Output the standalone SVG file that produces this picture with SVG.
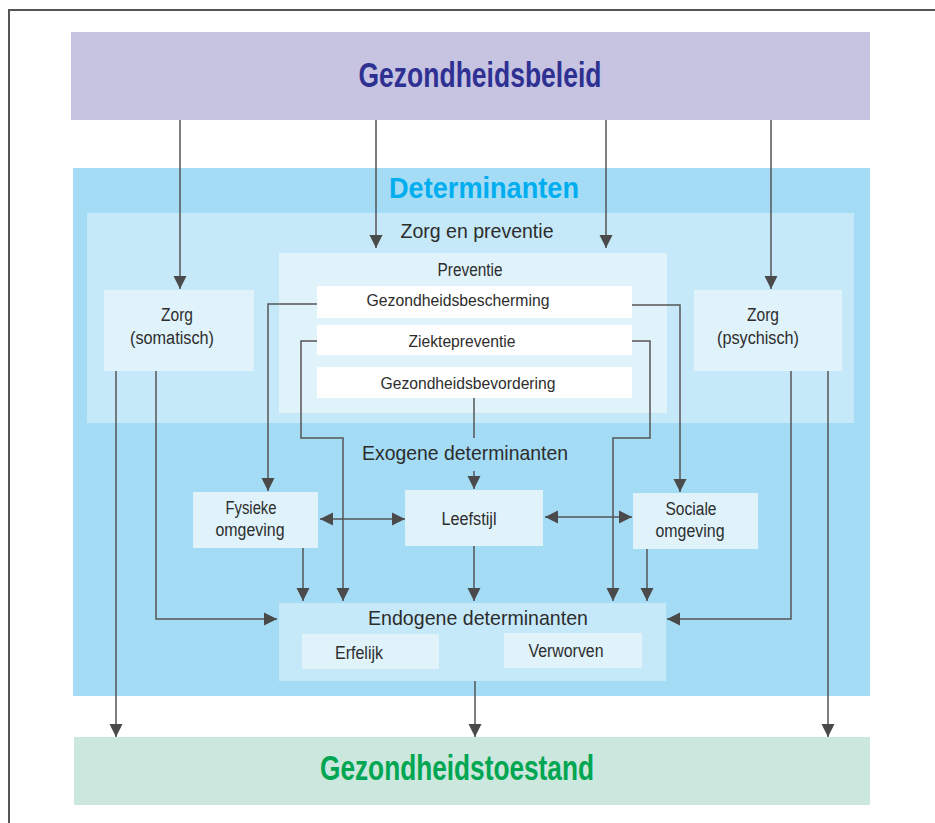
<svg xmlns="http://www.w3.org/2000/svg" width="935" height="823" viewBox="0 0 935 823">
<style>
text{font-family:"Liberation Sans",Arial,sans-serif;fill:#2d2d2d;text-anchor:middle}
.big{font-weight:bold;font-size:35px}
.lbl{font-size:18px}
.sm{font-size:16.5px}
.hd{font-size:21px}
.c{fill:none;stroke:#555;stroke-width:1.5}
.a{marker-end:url(#ah)}
.d{marker-start:url(#ah);marker-end:url(#ah)}
</style>
<defs>
<marker id="ah" markerUnits="userSpaceOnUse" markerWidth="14" markerHeight="14" viewBox="0 0 14 14" refX="13" refY="7" orient="auto-start-reverse">
<path d="M0,0.5 L13,7 L0,13.5 Z" fill="#4a4a4a"/>
</marker>
</defs>
<rect width="935" height="823" fill="#fff"/>
<path d="M9,823 V10 H935" fill="none" stroke="#555" stroke-width="2"/>

<g id="beleid">
<rect x="71" y="32" width="799" height="88" fill="#c7c4e2"/>
<text class="big" x="480" y="87" textLength="243" lengthAdjust="spacingAndGlyphs" style="fill:#2e3192">Gezondheidsbeleid</text>
</g>

<g id="determinanten">
<rect x="73" y="168" width="797" height="528" fill="#a4dcf6"/>
<text x="484" y="198" textLength="190" lengthAdjust="spacingAndGlyphs" style="font-weight:bold;font-size:30px;fill:#00aeef">Determinanten</text>
</g>

<g id="zorg-en-preventie">
<rect x="87" y="213" width="767" height="210" fill="#c6e9f9"/>
<text class="hd" x="477" y="238" textLength="153" lengthAdjust="spacingAndGlyphs">Zorg en preventie</text>
</g>

<g id="preventie">
<rect x="279" y="253" width="388" height="160" fill="#e0f3fb"/>
<text class="lbl" x="470" y="276" textLength="65" lengthAdjust="spacingAndGlyphs">Preventie</text>
</g>

<g id="gezondheidsbescherming">
<rect x="317" y="286" width="315" height="32" fill="#fff"/>
<text class="sm" x="458" y="306" textLength="183" lengthAdjust="spacingAndGlyphs">Gezondheidsbescherming</text>
</g>

<g id="ziektepreventie">
<rect x="317" y="325" width="315" height="30" fill="#fff"/>
<text class="sm" x="462" y="347" textLength="107" lengthAdjust="spacingAndGlyphs">Ziektepreventie</text>
</g>

<g id="gezondheidsbevordering">
<rect x="317" y="367" width="315" height="31" fill="#fff"/>
<text class="sm" x="468" y="389" textLength="175" lengthAdjust="spacingAndGlyphs">Gezondheidsbevordering</text>
</g>

<g id="zorg-somatisch">
<rect x="104" y="290" width="150" height="81" fill="#e0f3fb"/>
<text class="lbl" x="177" y="321" textLength="32" lengthAdjust="spacingAndGlyphs">Zorg</text>
<text class="lbl" x="172" y="344" textLength="84" lengthAdjust="spacingAndGlyphs">(somatisch)</text>
</g>

<g id="zorg-psychisch">
<rect x="694" y="290" width="148" height="81" fill="#e0f3fb"/>
<text class="lbl" x="763" y="321" textLength="32" lengthAdjust="spacingAndGlyphs">Zorg</text>
<text class="lbl" x="758" y="344" textLength="82" lengthAdjust="spacingAndGlyphs">(psychisch)</text>
</g>

<g id="exogene">
<text class="hd" x="465" y="460" textLength="206" lengthAdjust="spacingAndGlyphs">Exogene determinanten</text>
</g>

<g id="fysieke-omgeving">
<rect x="193" y="492" width="125" height="56" fill="#e0f3fb"/>
<text class="lbl" x="251" y="514" textLength="51" lengthAdjust="spacingAndGlyphs">Fysieke</text>
<text class="lbl" x="250" y="536" textLength="69" lengthAdjust="spacingAndGlyphs">omgeving</text>
</g>

<g id="leefstijl">
<rect x="405" y="490" width="138" height="56" fill="#e0f3fb"/>
<text class="lbl" x="469" y="525" textLength="55" lengthAdjust="spacingAndGlyphs">Leefstijl</text>
</g>

<g id="sociale-omgeving">
<rect x="633" y="493" width="125" height="56" fill="#e0f3fb"/>
<text class="lbl" x="691" y="515" textLength="51" lengthAdjust="spacingAndGlyphs">Sociale</text>
<text class="lbl" x="690" y="537" textLength="69" lengthAdjust="spacingAndGlyphs">omgeving</text>
</g>

<g id="endogene">
<rect x="279" y="603" width="387" height="78" fill="#c6e9f9"/>
<text class="hd" x="478" y="625" textLength="220" lengthAdjust="spacingAndGlyphs">Endogene determinanten</text>
</g>

<g id="erfelijk">
<rect x="302" y="634" width="137" height="35" fill="#e0f3fb"/>
<text class="lbl" x="359" y="659" textLength="48" lengthAdjust="spacingAndGlyphs">Erfelijk</text>
</g>

<g id="verworven">
<rect x="504" y="633" width="138" height="35" fill="#e0f3fb"/>
<text class="lbl" x="566" y="657" textLength="75" lengthAdjust="spacingAndGlyphs">Verworven</text>
</g>

<g id="toestand">
<rect x="74" y="737" width="796" height="68" fill="#cbe7de"/>
<text class="big" x="457" y="780" textLength="274" lengthAdjust="spacingAndGlyphs" style="fill:#00a651">Gezondheidstoestand</text>
</g>

<g id="connectors">
<path class="c a" d="M180,120 V289"/>
<path class="c a" d="M376,120 V248"/>
<path class="c a" d="M606,120 V248"/>
<path class="c a" d="M771,120 V289"/>
<path class="c a" d="M116,371 V737"/>
<path class="c a" d="M156,371 V619 H277"/>
<path class="c a" d="M791,371 V619 H667"/>
<path class="c a" d="M828,371 V737"/>
<path class="c a" d="M317,304 H268 V491"/>
<path class="c a" d="M632,305 H680 V492"/>
<path class="c a" d="M317,341 H301 V438 H343 V601"/>
<path class="c a" d="M632,341 H650 V438 H613 V601"/>
<path class="c" d="M474,398 V438"/>
<path class="c a" d="M474,471 V489"/>
<path class="c a" d="M303,548 V601"/>
<path class="c a" d="M474,546 V601"/>
<path class="c a" d="M647,549 V601"/>
<path class="c d" d="M320,519 H405"/>
<path class="c d" d="M545,517 H632"/>
<path class="c a" d="M475,681 V737"/>
</g>
</svg>
